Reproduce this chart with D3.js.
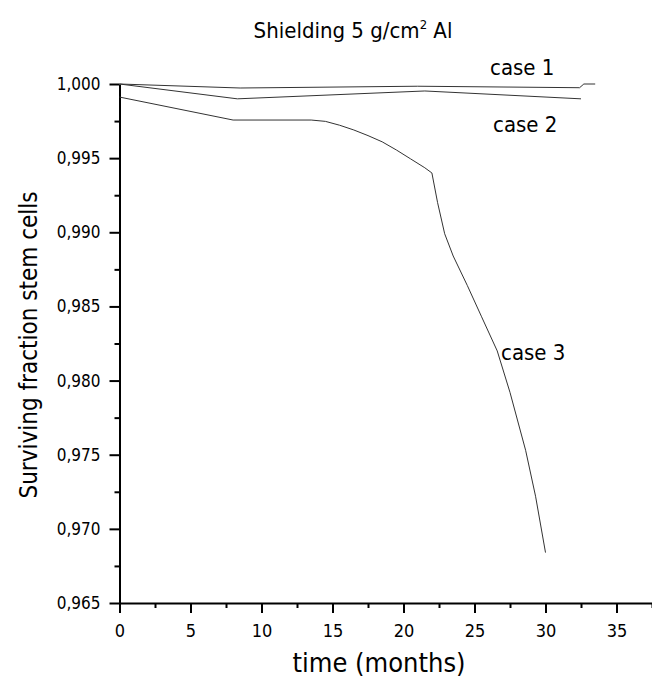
<!DOCTYPE html>
<html>
<head>
<meta charset="utf-8">
<script src="https://cdn.jsdelivr.net/npm/d3@7"></script>
<style>
  body { margin: 0; background: #fff; }
  svg text { font-family: "DejaVu Sans Condensed", "Noto Sans", sans-serif; fill: #000; }
  .xaxis text { font-size: 18px; }
  .yaxis text { font-size: 17px; }
</style>
</head>
<body>
<svg id="chart" width="652" height="681"></svg>
<script>
// months since start
var case1_t = [0, 8.5, 21, 32.4, 32.7, 33.5];
var case1_v = [1.0000, 0.99973, 0.99985, 0.99975, 1.0000, 1.0000];

var case2_t = [0, 8.3, 21.5, 32.5];
var case2_v = [1.0000, 0.99900, 0.99953, 0.99900];

var case3_t = [0, 8, 13.5, 14.5, 15.5, 16.5, 17.5, 18.5, 19.5, 20.5, 21.5, 22,
               22.4, 22.9, 23.5, 24.5, 25.5, 26.6, 27.5, 28.6, 29.3, 30];
var case3_v = [0.99912, 0.99757, 0.99757, 0.99748, 0.99722, 0.99690, 0.99652, 0.99610, 0.99555, 0.99495, 0.99435, 0.99400,
               0.99200, 0.98990, 0.98840, 0.98640, 0.98430, 0.98200, 0.97920, 0.97530, 0.97220, 0.96840];

var case_labels = ["case 1", "case 2", "case 3"];
var x_ticks = [0, 5, 10, 15, 20, 25, 30, 35];
var y_ticks = [0.965, 0.970, 0.975, 0.980, 0.985, 0.990, 0.995, 1.000];

var svg = d3.select("#chart");

var x = d3.scaleLinear().domain([0, 38]).range([119.5, 119.5 + 38 * 14.2]);
var y = d3.scaleLinear().domain([0.965, 1.000]).range([603, 84]);

var fmt = function(d) { return d3.format(".3f")(d).replace(".", ","); };

// minor ticks
var xMinor = d3.range(2.5, 38, 5);
var yMinor = d3.range(0, 7).map(function(i) { return 0.9675 + i * 0.005; });

svg.append("g")
    .attr("transform", "translate(0,603)")
    .call(d3.axisBottom(x).tickValues(xMinor).tickSize(5).tickFormat(""))
    .call(function(g) { g.select(".domain").remove(); });

svg.append("g")
    .attr("transform", "translate(119.5,0)")
    .call(d3.axisLeft(y).tickValues(yMinor).tickSize(5).tickFormat(""))
    .call(function(g) { g.select(".domain").remove(); });

var xAxis = svg.append("g")
    .attr("class", "xaxis")
    .attr("transform", "translate(0,603)")
    .call(d3.axisBottom(x).tickValues(x_ticks).tickSize(10).tickSizeOuter(0).tickPadding(7))
    .attr("font-size", 18);

var yAxis = svg.append("g")
    .attr("class", "yaxis")
    .attr("transform", "translate(119.5,0)")
    .call(d3.axisLeft(y).tickValues(y_ticks).tickSize(10).tickSizeOuter(0).tickPadding(9).tickFormat(fmt))
    .attr("font-size", 17);

svg.selectAll(".domain, .tick line").attr("stroke", "#000").attr("stroke-width", 2);
xAxis.selectAll(".tick text").attr("fill", "#000").attr("dy", "0.95em");
yAxis.selectAll(".tick text").attr("fill", "#000");

// curves
var line = d3.line()
    .x(function(d) { return x(d[0]); })
    .y(function(d) { return y(d[1]); });

[[case1_t, case1_v], [case2_t, case2_v], [case3_t, case3_v]].forEach(function(s) {
    svg.append("path")
        .datum(d3.zip(s[0], s[1]))
        .attr("d", line)
        .attr("fill", "none")
        .attr("stroke", "#333")
        .attr("stroke-width", 1);
});

// case labels
var label_pos = [[490, 75], [493, 132], [501, 360]];
case_labels.forEach(function(t, i) {
    svg.append("text")
        .attr("x", label_pos[i][0])
        .attr("y", label_pos[i][1])
        .style("font-size", "22px")
        .text(t);
});

// title
var title = svg.append("text")
    .attr("x", 353)
    .attr("y", 38)
    .attr("text-anchor", "middle")
    .style("font-size", "22px");
title.append("tspan").text("Shielding 5 g/cm");
title.append("tspan").attr("dy", -9).style("font-size", "13px").text("2");
title.append("tspan").attr("dy", 9).text(" Al");

svg.append("text")
    .attr("x", 379)
    .attr("y", 672)
    .attr("text-anchor", "middle")
    .style("font-size", "27px")
    .text("time (months)");

svg.append("text")
    .attr("transform", "translate(37,345) rotate(-90)")
    .attr("text-anchor", "middle")
    .style("font-size", "24px")
    .text("Surviving fraction stem cells");
</script>
</body>
</html>
